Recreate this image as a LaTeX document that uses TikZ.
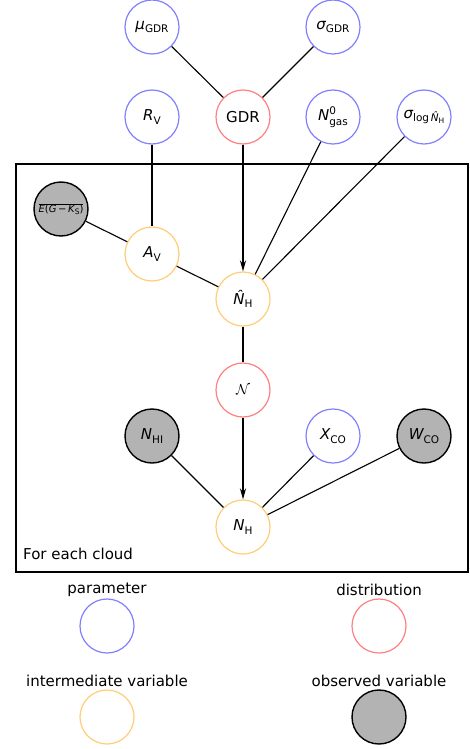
\documentclass[tikz,border=0pt]{standalone}
\usepackage{fontspec}
\setmainfont{DejaVu Sans}
\usetikzlibrary{arrows.meta}
\definecolor{pblue}{RGB}{128,128,255}
\definecolor{pred}{RGB}{255,128,128}
\definecolor{porange}{RGB}{255,204,119}
\definecolor{pgray}{RGB}{179,179,179}
\newcommand\vr[1]{{\itshape #1}}
\newcommand\sbs[1]{\raisebox{-0.4ex}{\fontsize{10.5}{12}\selectfont #1}}
\newcommand\sbss[1]{\raisebox{-0.35ex}{\fontsize{7.5}{9}\selectfont #1}}
\tikzset{
  nd/.style={circle, minimum size=54pt, inner sep=0pt, line width=1.2pt},
  param/.style={nd, draw=pblue},
  distr/.style={nd, draw=pred},
  inter/.style={nd, draw=porange},
  obs/.style={nd, draw=black, fill=pgray, line width=1.4pt},
  edge/.style={line width=1.1pt},
  arr/.style={line width=1.7pt, -{Stealth[length=11pt,width=6pt]}},
  lbl/.style={inner sep=0pt}
}
\begin{document}
\begin{tikzpicture}[x=1pt,y=-1pt, font=\fontsize{15}{18}\selectfont]
\useasboundingbox (0,0) rectangle (469,749);
% plate
\node[draw, line width=1.2pt, inner sep=0pt, outer sep=0pt, minimum width=452pt, minimum height=408pt] (plate) at (242,368) {};
\node[anchor=west, lbl] (platelbl) at (23,554) {For each cloud};
% nodes
\node[param] (mu) at (152,27) {\vr{μ}\sbs{GDR}};
\node[param] (sig) at (333,27) {\vr{σ}\sbs{GDR}};
\node[param] (rv) at (152,117) {\vr{R}\sbs{V}};
\node[distr] (gdr) at (243,117) {GDR};
\node[param] (ngas) at (333,117) {\vr{N}\rlap{\raisebox{0.75ex}{\fontsize{10.5}{12}\selectfont 0}}\raisebox{-0.55ex}{\fontsize{10.5}{12}\selectfont gas}};
\node[param] (siglog) at (424,117) {\vr{σ}\raisebox{-0.45ex}{\fontsize{10.5}{12}\selectfont log\,\vr{N̂}\sbss{H}}};
\node[obs] (egk) at (61,209) {$\overline{\hbox{\fontsize{10}{12}\selectfont\vr{E}(\vr{G}\,−\,\vr{K}\sbss{S})}}$};
\node[inter] (av) at (152,254) {\vr{A}\sbs{V}};
\node[inter] (nhat) at (243,299) {\vr{N̂}\sbs{H}};
\node[distr] (norm) at (243,390) {$\mathcal{N}$};
\node[obs] (nhi) at (152,436) {\vr{N}\sbs{HI}};
\node[param] (xco) at (333,436) {\vr{X}\sbs{CO}};
\node[obs] (wco) at (424,436) {\vr{W}\sbs{CO}};
\node[inter] (nh) at (243,527) {\vr{N}\sbs{H}};
% edges
\draw[edge] (mu) -- (gdr);
\draw[edge] (sig) -- (gdr);
\draw[arr] (gdr) -- (nhat);
\draw[edge] (rv) -- (av);
\draw[edge] (egk) -- (av);
\draw[edge] (av) -- (nhat);
\draw[edge] (ngas) -- (nhat);
\draw[edge] (siglog) -- (nhat);
\draw[edge] (nhat) -- (norm);
\draw[arr] (norm) -- (nh);
\draw[edge] (nhi) -- (nh);
\draw[edge] (xco) -- (nh);
\draw[edge] (wco) -- (nh);
% legend
\node[lbl] (lpt) at (107,590) {parameter};
\node[param] (lp) at (107,626) {};
\node[lbl] (ldt) at (379,590) {distribution};
\node[distr] (ld) at (379,626) {};
\node[lbl] (lit) at (107,681) {intermediate variable};
\node[inter] (li) at (107,717) {};
\node[lbl] (lot) at (379,681) {observed variable};
\node[obs] (lo) at (379,717) {};
\end{tikzpicture}
\end{document}
